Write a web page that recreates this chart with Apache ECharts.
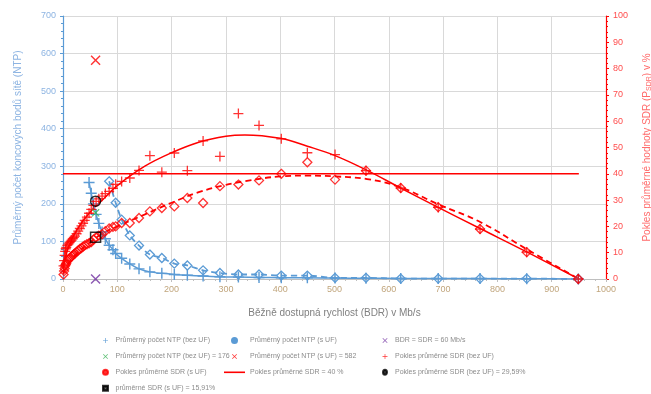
<!DOCTYPE html>
<html><head><meta charset="utf-8">
<script src="https://cdn.jsdelivr.net/npm/echarts@6/dist/echarts.min.js"></script>
<style>html,body{margin:0;padding:0;background:#fff}#c{width:651px;height:394px}</style>
</head><body><div id="c"></div>
<script>
// ---- data ----
const bdr = [1, 2, 3, 4, 5, 6, 8, 10, 12, 14, 16, 18, 20, 22, 25, 28, 31, 34, 37, 40, 44, 48, 52, 56, 61, 66, 72, 78, 85, 92, 97,
             108, 123, 140, 160, 182, 205, 229, 258, 289, 323, 361, 402, 450, 501, 558, 622, 691, 768, 854, 949];
const sdrBez = [5, 7, 9, 10.5, 11.5, 12, 12.8, 13.3, 13.8, 14.3, 14.8, 15.3, 15.8, 16.3, 17.2, 18.2, 19.2, 20.2, 21.2, 22.3, 23.5, 25, 26.5, 28, 29.5, 30.5, 31.5, 32.5, 33.3, 34.5, 36,
                37.1, 38.4, 41.3, 46.9, 40.6, 47.9, 41.2, 52.5, 46.6, 62.9, 58.4, 53.3, 48, 47.3, 41.2, 34.6, 27.2, 19, 10.2, 0];
const sdrS = [1.7, 3, 4, 5, 5.5, 6, 6.8, 7.4, 7.8, 8.2, 8.7, 9, 9.4, 9.7, 10.3, 10.9, 11.4, 11.8, 12.3, 12.8, 13.2, 13.6, 14, 15, 15.9, 16.5, 17, 18.2, 19.2, 19.8, 20,
              21.3, 21.3, 23.2, 25.7, 27, 27.6, 30.8, 28.9, 35.3, 35.9, 37.5, 40, 44.4, 37.8, 41.2, 34.6, 27.3, 19, 10.2, 0];
const ntpBez = [null, null, null, null, null, null, null, null, null, null, null, null, null, null, null, null, null, null, null, null, null, 257, 228, 200, 172, 148, 125, 107, 90, 78, 68,
                55, 40, 27, 19, 15, 12, 10, 8, 6, 5, 4, 3.5, 3, 2.5, 2, 1.5, 1, 1, 0.5, 0.3];
const ntpS = [null, null, null, null, null, null, null, null, null, null, null, null, null, null, null, null, null, null, null, null, null, null, null, null, null, null, null, null, 260, null, 203,
              158, 116, 89, 65, 56, 41, 36, 23, 16, 12, 12, 9, 9, 3, 3, 1, 1, 1, 1, 0];
const trendX = [0, 10, 25, 50, 75, 100, 150, 200, 250, 300, 335, 400, 450, 500, 560, 620, 690, 770, 855, 950];
const trendBez = [4, 12, 18.5, 25.5, 30.5, 35.5, 42.8, 48, 52, 54.3, 54.8, 53.5, 50.5, 47, 41.3, 34.8, 27.3, 19, 10.2, 0];
const trendS = [2, 6, 9.5, 14, 17.5, 20, 24.5, 29, 33, 35.8, 37.2, 39, 39.3, 39, 38, 35, 28.5, 21.5, 11.2, 0];
const limitLine = [[0, 40], [950, 40]];
const refBdr = 60, refNtpBez = 176, refNtpS = 582, refSdrBez = 29.59, refSdrS = 15.91;
const xTicks = [0, 1000, 100];
const yLeftTicks = [0, 700, 100];
const yRightTicks = [0, 100, 10];
const names = {
  ntpBez: 'Průměrný počet NTP (bez UF)', ntpS: 'Průměrný počet NTP (s UF)', bdrEq: 'BDR = SDR = 60 Mb/s',
  ntpBezV: 'Průměrný počet NTP (bez UF) = 176', ntpSV: 'Průměrný počet NTP (s UF) = 582', sdrBez: 'Pokles průměrné SDR (bez UF)',
  sdrS: 'Pokles průměrné SDR (s UF)', lim: 'Pokles průměrné SDR = 40 %', sdrBezV: 'Pokles průměrné SDR (bez UF) = 29,59%',
  sdrSV: 'průměrné SDR (s UF) = 15,91%'
};
// ---- chart ----
const PLUS = 'path://M4.35,0H5.65V4.35H10V5.65H5.65V10H4.35V5.65H0V4.35H4.35Z';
const XMARK = 'path://M1,0L5,4L9,0L10,1L6,5L10,9L9,10L5,6L1,10L0,9L4,5L0,1Z';
const DOT = 'path://M0,2A2,2 0 1,1 4,2A2,2 0 1,1 0,2Z';
const BLUE = '#5b9bd5', RED = '#ff0000';
const pairs = (xs, ys) => xs.map((x, i) => [x, ys[i]]).filter(p => p[1] != null);
const FONT = 'Liberation Sans, Arial, sans-serif';
const hollow = c => ({ color: 'rgba(0,0,0,0)', borderColor: c, borderWidth: 1.3 });
const legendText = { fontSize: 7, color: '#8c8c8c', fontFamily: FONT };
const mkLegend = (left, w, gap, data) => ({
  orient: 'vertical', left: left, top: 337, height: 57, padding: 0, itemWidth: w, itemHeight: 5, itemGap: 8.9,
  itemTextGap: gap, textStyle: legendText, selectedMode: false, data: data, symbolKeepAspect: true
});
const chart = echarts.init(document.getElementById('c'), null, { renderer: 'canvas' });
chart.setOption({
  animation: false,
  textStyle: { fontFamily: FONT },
  grid: { left: 63, right: 45, top: 16, bottom: 115, containLabel: false, outerBoundsMode: 'none' },
  legend: [
    mkLegend(102, 10, 3, [
      { name: names.ntpBez, icon: PLUS, itemStyle: { color: BLUE } },
      { name: names.ntpBezV, icon: XMARK, itemStyle: { color: '#33b050' } },
      { name: names.sdrS, icon: DOT, itemStyle: { color: RED } },
      { name: names.sdrSV, icon: 'path://M0,0H10V10H0ZM2.5,2.5V7.5H7.5V2.5Z', itemStyle: { color: '#000' } }
    ]),
    mkLegend(224, 21, 3, [
      { name: names.ntpS, icon: DOT, itemStyle: { color: BLUE } },
      { name: names.ntpSV, icon: XMARK, itemStyle: { color: RED } },
      { name: names.lim, icon: 'path://M0,0H21V1.6H0Z', itemStyle: { color: RED } }
    ]),
    mkLegend(382, 10, 8, [
      { name: names.bdrEq, icon: XMARK, itemStyle: { color: '#7030a0' } },
      { name: names.sdrBez, icon: PLUS, itemStyle: { color: RED } },
      { name: names.sdrBezV, icon: 'path://M5,0A4,5 0 1,1 4.99,0ZM5,2A2,3 0 1,0 5.01,2Z', itemStyle: { color: '#000' } }
    ])
  ],
  xAxis: {
    type: 'value', min: xTicks[0], max: xTicks[1], interval: xTicks[2],
    name: 'Běžně dostupná rychlost (BDR) v Mb/s', nameLocation: 'middle', nameGap: 29,
    nameTextStyle: { fontSize: 10, color: '#808080' },
    axisLine: { lineStyle: { color: '#bfbfbf' } },
    axisTick: { show: true, length: 3, lineStyle: { color: '#bfbfbf' } },
    minorTick: { show: true, splitNumber: 5, length: 2, lineStyle: { color: '#bfbfbf' } },
    axisLabel: { fontSize: 9, color: '#c0a57c', margin: 6, formatter: v => String(v) },
    splitLine: { show: true, lineStyle: { color: '#d9d9d9', width: 1 } }
  },
  yAxis: [
    {
      type: 'value', min: yLeftTicks[0], max: yLeftTicks[1], interval: yLeftTicks[2],
      name: 'Průměrný počet koncových bodů sítě (NTP)', nameLocation: 'middle', nameGap: 40,
      nameTextStyle: { fontSize: 10, color: '#8db4e2' },
      axisLine: { show: true, lineStyle: { color: BLUE, width: 1.2 } },
      axisTick: { show: true, length: 3, lineStyle: { color: BLUE } },
      minorTick: { show: true, splitNumber: 5, length: 2, lineStyle: { color: BLUE } },
      axisLabel: { fontSize: 9, color: '#8db4e2', margin: 7 },
      splitLine: { show: true, lineStyle: { color: '#d9d9d9', width: 1 } }
    },
    {
      type: 'value', min: yRightTicks[0], max: yRightTicks[1], interval: yRightTicks[2], position: 'right',
      name: 'Pokles průměrné hodnoty SDR (P{s|SDR}) v %', nameLocation: 'middle', nameGap: 36, nameRotate: 90,
      nameTextStyle: { fontSize: 10, color: '#ff6b6b', rich: { s: { fontSize: 7, color: '#ff6b6b', verticalAlign: 'bottom', padding: [4, 0, 0, 0] } } },
      axisLine: { show: true, lineStyle: { color: RED, width: 1.2 } },
      axisTick: { show: true, length: 3, lineStyle: { color: RED } },
      minorTick: { show: true, splitNumber: 5, length: 2, lineStyle: { color: RED } },
      axisLabel: { fontSize: 9, color: '#ff4d4d', margin: 7 },
      splitLine: { show: false }
    }
  ],
  series: [
    { name: 'trendBez', type: 'line', yAxisIndex: 1, smooth: 0.4, symbol: 'none', data: pairs(trendX, trendBez),
      lineStyle: { color: RED, width: 1.5 }, z: 3 },
    { name: 'trendS', type: 'line', yAxisIndex: 1, smooth: 0.4, symbol: 'none', data: pairs(trendX, trendS),
      lineStyle: { color: RED, width: 1.8, type: [6, 4] }, z: 3 },
    { name: names.lim, type: 'line', yAxisIndex: 1, symbol: 'none', data: limitLine,
      lineStyle: { color: RED, width: 1.5 }, itemStyle: { color: RED }, z: 3 },
    { name: names.ntpS, type: 'line', yAxisIndex: 0, smooth: 0.3, symbol: 'diamond', symbolSize: 9,
      data: pairs(bdr, ntpS), lineStyle: { color: BLUE, width: 1.8, type: [6, 4] }, itemStyle: hollow(BLUE), z: 4 },
    { name: names.ntpBez, type: 'line', yAxisIndex: 0, smooth: 0.3, symbol: PLUS, symbolSize: 11,
      data: pairs(bdr, ntpBez), lineStyle: { color: BLUE, width: 1.5 }, itemStyle: { color: BLUE }, z: 4 },
    { name: names.sdrS, type: 'scatter', yAxisIndex: 1, symbol: 'diamond', symbolSize: 9,
      data: pairs(bdr, sdrS), itemStyle: hollow(RED), z: 5 },
    { name: names.sdrBez, type: 'scatter', yAxisIndex: 1, symbol: PLUS, symbolSize: 10,
      data: pairs(bdr, sdrBez), itemStyle: { color: RED }, z: 6 },
    { name: names.bdrEq, type: 'scatter', yAxisIndex: 0, symbol: XMARK, symbolSize: 10,
      data: [[refBdr, 0]], itemStyle: { color: '#7030a0' }, z: 7 },
    { name: names.ntpBezV, type: 'scatter', yAxisIndex: 0, symbol: XMARK, symbolSize: 8,
      data: [[refBdr, refNtpBez]], itemStyle: { color: '#33b050' }, z: 7 },
    { name: names.ntpSV, type: 'scatter', yAxisIndex: 0, symbol: XMARK, symbolSize: 10,
      data: [[refBdr, refNtpS]], itemStyle: { color: RED }, z: 7 },
    { name: names.sdrBezV, type: 'scatter', yAxisIndex: 1, symbol: 'circle', symbolSize: 10,
      data: [[refBdr, refSdrBez]], itemStyle: { color: 'rgba(0,0,0,0)', borderColor: '#000', borderWidth: 1.5 }, z: 8 },
    { name: names.sdrSV, type: 'scatter', yAxisIndex: 1, symbol: 'rect', symbolSize: 10,
      data: [[refBdr, refSdrS]], itemStyle: { color: 'rgba(0,0,0,0)', borderColor: '#000', borderWidth: 1.5 }, z: 8 }
  ]
});
</script></body></html>
